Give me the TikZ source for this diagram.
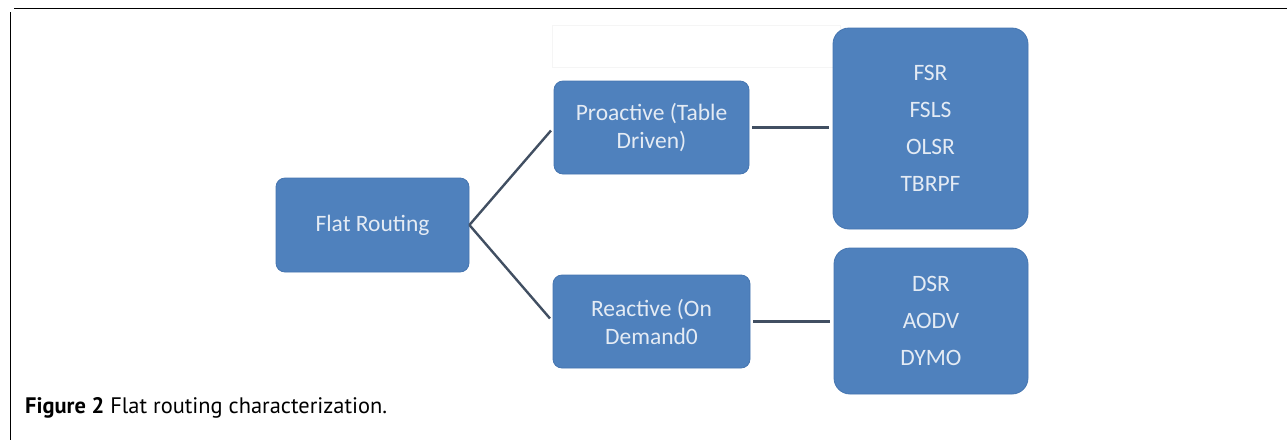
\documentclass[tikz,border=0pt]{standalone}
\usepackage{fontspec}
\usepackage{graphicx}
\setmainfont{Carlito}
\newfontfamily\capfont{PT Sans}
\definecolor{boxblue}{HTML}{4F81BD}
\definecolor{boxedge}{HTML}{4575B0}
\definecolor{boxtext}{HTML}{E4EBF4}
\definecolor{linecol}{HTML}{414F62}
\tikzset{
  blockbox/.style={draw=boxedge, line width=0.8pt, fill=boxblue, rounded corners=9pt,
    text=boxtext, align=center, inner sep=0pt,
    font=\fontsize{23.5}{28}\selectfont},
  listbox/.style={blockbox, rounded corners=16pt, font=\fontsize{23.5}{37}\selectfont},
  conn/.style={draw=linecol, line width=2.4pt}
}
\begin{document}
\begin{tikzpicture}[x=1pt,y=-1pt]
\useasboundingbox (0,0) rectangle (1287,440);
\fill[white] (0,0) rectangle (1287,440);
% frame
\draw[black, line width=1.5pt] (14,8.5) -- (1287,8.5);
\draw[black, line width=1.5pt] (10.5,12) -- (10.5,440);
% faint artifact
\draw[gray!8, line width=1pt] (552,25) rectangle (840,67);
% nodes
\node[blockbox, minimum width=193pt, minimum height=94pt] (fr) at (372.5,225) {Flat Routing};
\node[blockbox, minimum width=195pt, minimum height=93pt] (pro) at (651.5,127.5) {Proactive (Table\\Driven)};
\node[blockbox, minimum width=197pt, minimum height=93pt] (rea) at (651.5,321.5) {Reactive (On\\Demand0};
\node[listbox, minimum width=195pt, minimum height=201pt] (pl) at (930.5,128.5) {FSR\\FSLS\\OLSR\\TBRPF};
\node[listbox, minimum width=194pt, minimum height=146pt] (rl) at (931,321) {DSR\\AODV\\DYMO};
% connectors
\draw[conn, shorten >=4pt] (fr.east) -- (pro.west);
\draw[conn, shorten >=4pt] (fr.east) -- (rea.west);
\draw[conn, shorten <=3pt, shorten >=4pt] (pro.east) -- (pro.east -| pl.west);
\draw[conn, shorten <=3pt, shorten >=4pt] (rea.east) -- (rea.east -| rl.west);
% caption
\node[anchor=base west, inner sep=0pt] (cap) at (25,413)
  {\resizebox{362pt}{!}{\capfont\textbf{Figure 2} Flat routing characterization.}};
\end{tikzpicture}
\end{document}
